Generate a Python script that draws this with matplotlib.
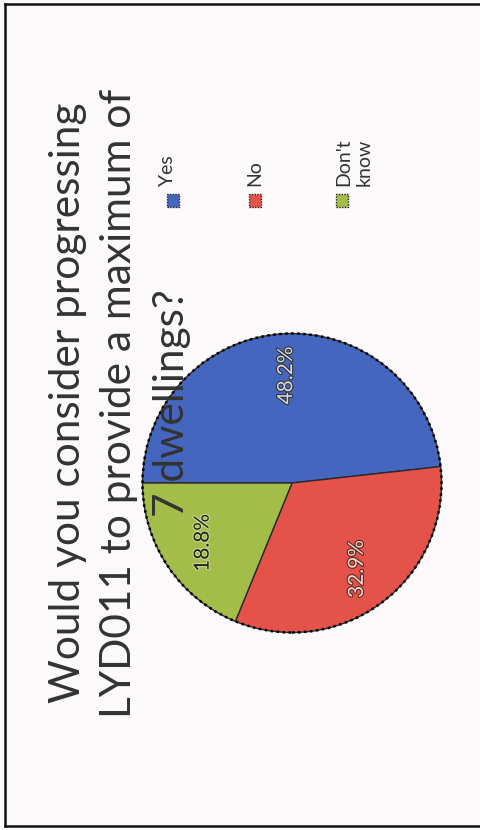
import matplotlib.pyplot as plt
import matplotlib.patches as mpatches
import matplotlib.patheffects as pe

# data read from the scanned (rotated) slide
categories = ["Yes", "No", "Don't know"]
shares = [48.2, 32.9, 18.8]
colors = ["#4466BE", "#E5524A", "#A3BD48"]
title_lines = ["Would you consider progressing",
               "LYD011 to provide a maximum of",
               "7 dwellings?"]

W, H = 481, 830
fig = plt.figure(figsize=(W / 100, H / 100), dpi=100)
fig.patch.set_facecolor("#FCF9FB")


def fx(px):
    return px / W


def fy(py):
    return 1 - py / H


# scanned page frame (right side runs off the page)
for xs, ys in [([5, 481], [4, 4]), ([5, 5], [4, 826]), ([5, 481], [826, 826])]:
    fig.add_artist(plt.Line2D([fx(v) for v in xs], [fy(v) for v in ys],
                              color="#111111", lw=1.8, transform=fig.transFigure))

# pie, whole slide is turned 90 degrees counter-clockwise
cx, cy, r = 292, 483, 154
ax = fig.add_axes([fx(cx - r), fy(cy + r), 2 * r / W, 2 * r / H])
wedges, _, autotexts = ax.pie(
    shares, colors=colors, startangle=180, counterclock=False,
    autopct="%1.1f%%", pctdistance=0.72,
    wedgeprops=dict(edgecolor="#2a2a2a", linewidth=1.0),
    textprops=dict(fontsize=15, family=["Lato", "DejaVu Sans"]))
ax.add_patch(mpatches.Circle((0, 0), 1.0, fill=False, ec="black",
                             lw=1.8, ls=(0, (1, 1.4))))
ax.set_xlim(-1.03, 1.03)
ax.set_ylim(-1.03, 1.03)
ax.axis("off")

label_styles = [("#D6DAE6", "#333333"), ("#F3D9CF", "#5a2a22"), ("#1f1f1f", "#C8D890")]
for t, (fc, ec) in zip(autotexts, label_styles):
    t.set_rotation(90)
    t.set_color(fc)
    t.set_path_effects([pe.withStroke(linewidth=1.6, foreground=ec)])

# title, one text per line so each keeps its own box
for line, lx in zip(title_lines, [68, 119, 172]):
    fig.text(fx(lx), fy(403), line, rotation=90, ha="center", va="center",
             fontsize=30.5, color="#333333", family=["Lato", "DejaVu Sans"])

# legend drawn by hand, rotated with the slide
leg_x = [173, 255, 342]
text_x = [159, 246, 335]
for name, col, mx, tx in zip(categories, colors, leg_x, text_x):
    fig.add_artist(mpatches.Rectangle((fx(mx - 6), fy(207)), 12 / W, 13 / H,
                                      transform=fig.transFigure, fc=col,
                                      ec="#222222", lw=1.0, ls=(0, (1, 1))))
    label = name.replace(" ", "\n") if name == "Don't know" else name
    fig.text(fx(tx), fy(186), label, rotation=90, ha="left", va="bottom",
             multialignment="left", fontsize=14, color="#333333",
             family=["Lato", "DejaVu Sans"], linespacing=1.25)

fig.savefig("out.png", dpi=100, facecolor=fig.get_facecolor())
